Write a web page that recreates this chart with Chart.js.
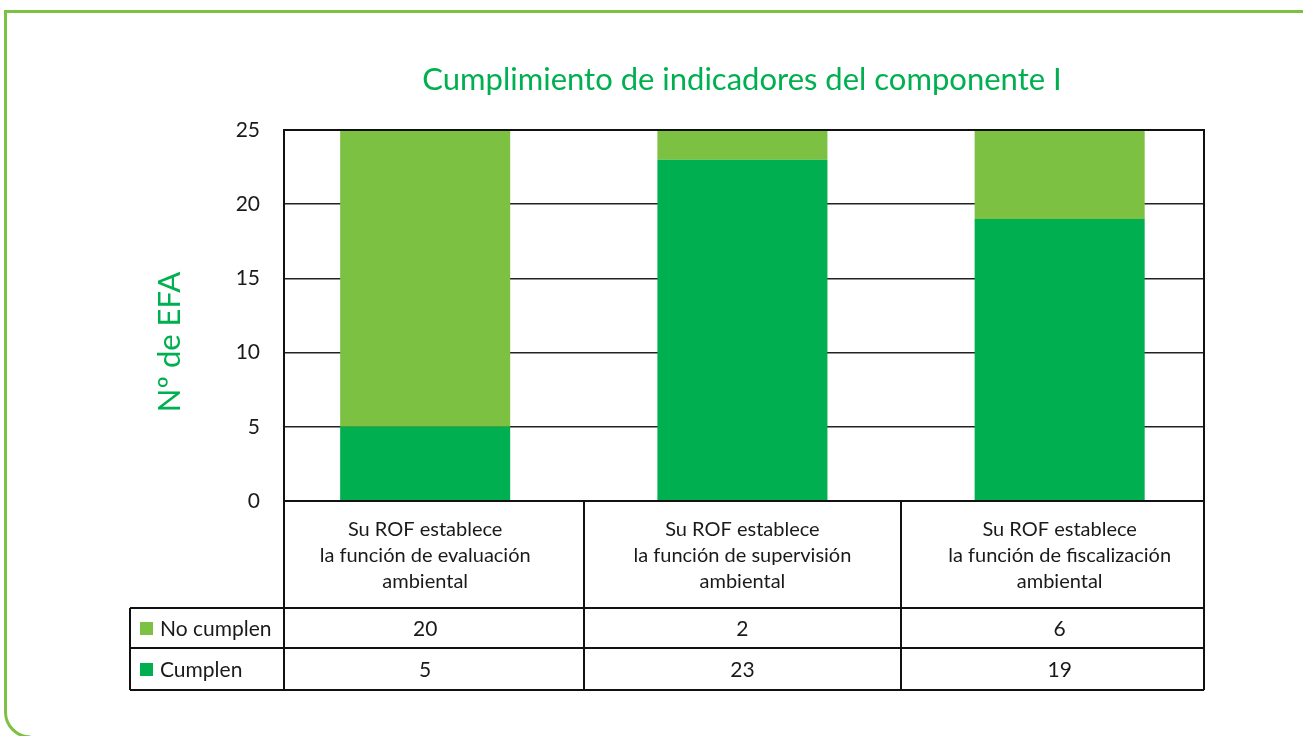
<!DOCTYPE html>
<html>
<head>
<meta charset="utf-8">
<script src="https://cdn.jsdelivr.net/npm/chart.js@4"></script>
<style>body{margin:0;background:#fff}</style>
</head>
<body>
<canvas id="chart" width="1303" height="736"></canvas>
<script>
const title = "Cumplimiento de indicadores del componente I"
const yTitle = "Nº de EFA"
const categories = [
    ["Su ROF establece", "la función de evaluación", "ambiental"],
    ["Su ROF establece", "la función de supervisión", "ambiental"],
    ["Su ROF establece", "la función de fiscalización", "ambiental"]
]
const seriesNames = ["No cumplen", "Cumplen"]
const noCumplen = [20, 2, 6]
const cumplen = [5, 23, 19]
const yTicks = [0, 5, 10, 15, 20, 25]

const LIGHT = '#7dc142'
const DARK = '#00b050'
const TEXT = '#1a1a1a'
const FONT = 'Lato'

// frame, title, plot box and data table
const extras = {
    id: 'extras',
    beforeDraw(chart) {
        const c = chart.ctx
        c.save()
        c.strokeStyle = LIGHT
        c.lineWidth = 3
        c.beginPath()
        c.moveTo(1303, 11.5)
        c.lineTo(5.5, 11.5)
        c.lineTo(5.5, 712)
        c.arc(30.5, 712, 25, Math.PI, Math.PI / 2, true)
        c.stroke()
        c.restore()
    },
    afterDraw(chart) {
        const c = chart.ctx
        const {left, right, top, bottom} = chart.chartArea
        const x = chart.scales.x
        const cuts = [left, Math.round(x.getPixelForValue(0.5)), Math.round(x.getPixelForValue(1.5)), right]
        const row1 = 608, row2 = 648, row3 = 690, tableLeft = 130
        c.save()
        // titles
        c.fillStyle = DARK
        c.font = `31px ${FONT}`
        c.textAlign = 'center'
        c.textBaseline = 'middle'
        c.fillText(title, 742, 80)
        c.save()
        c.translate(170, 342)
        c.rotate(-Math.PI / 2)
        c.fillText(yTitle, 0, 0)
        c.restore()
        // lines
        c.strokeStyle = '#111'
        c.lineWidth = 2
        const line = (x1, y1, x2, y2) => { c.beginPath(); c.moveTo(x1, y1); c.lineTo(x2, y2); c.stroke() }
        c.strokeRect(left, top, right - left, bottom - top)
        line(tableLeft, row1, right, row1)
        line(tableLeft, row2, right, row2)
        line(tableLeft, row3, right, row3)
        line(tableLeft, row1, tableLeft, row3)
        cuts.forEach(px => line(px, bottom, px, row3))
        // category labels, centred under each bar
        c.fillStyle = TEXT
        c.font = `20px ${FONT}`
        categories.forEach((lines, i) => {
            const cx = x.getPixelForValue(i)
            lines.forEach((t, j) => c.fillText(t, cx, 530 + j * 26))
        })
        // values
        c.font = `21px ${FONT}`
        const rows = [[noCumplen, LIGHT, (row1 + row2) / 2], [cumplen, DARK, (row2 + row3) / 2]]
        rows.forEach(([vals, col, cy], r) => {
            vals.forEach((v, i) => {
                c.fillStyle = TEXT
                c.textAlign = 'center'
                c.fillText(String(v), x.getPixelForValue(i), cy + 1)
            })
            c.fillStyle = col
            c.fillRect(140, cy - 6, 13, 13)
            c.fillStyle = TEXT
            c.textAlign = 'left'
            c.fillText(seriesNames[r], 160, cy + 1)
        })
        c.restore()
    }
}

const ctx = document.getElementById("chart").getContext("2d")
new Chart(ctx, {
    type: "bar",
    data: {
        datasets: [
            {
                label: seriesNames[1],
                data: cumplen.map((v, i) => ({x: i, y: v})),
                backgroundColor: DARK
            },
            {
                label: seriesNames[0],
                data: noCumplen.map((v, i) => ({x: i, y: v})),
                backgroundColor: LIGHT
            }
        ]
    },
    options: {
        responsive: false,
        animation: false,
        layout: {
            padding: {left: 130, right: 99, top: 130, bottom: 235}
        },
        datasets: {
            bar: {categoryPercentage: 1, barPercentage: 0.536, borderWidth: 0}
        },
        scales: {
            x: {
                type: 'linear',
                stacked: true,
                display: false,
                offset: false,
                min: -0.445,
                max: 2.455,
                afterBuildTicks: s => { s.ticks = categories.map((_, i) => ({value: i})) }
            },
            y: {
                stacked: true,
                min: 0,
                max: 25,
                afterFit: s => { s.width = 154 },
                afterBuildTicks: s => { s.ticks = yTicks.map(v => ({value: v})) },
                border: {display: false},
                grid: {color: '#222', lineWidth: 1.5, drawTicks: false},
                ticks: {
                    padding: 24,
                    color: TEXT,
                    font: {family: FONT, size: 21}
                }
            }
        },
        plugins: {
            legend: {display: false},
            tooltip: {enabled: false}
        }
    },
    plugins: [extras]
})
</script>
</body>
</html>
